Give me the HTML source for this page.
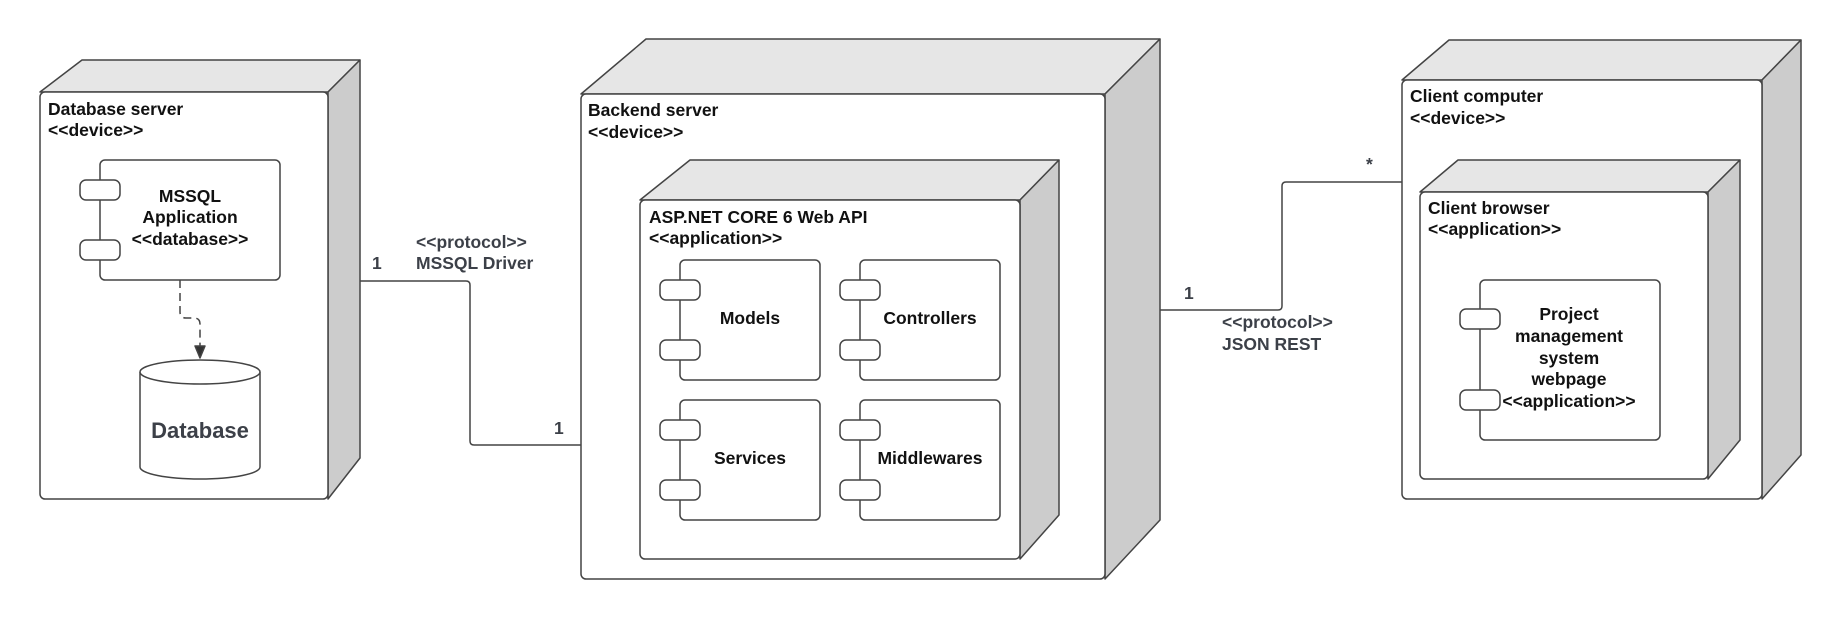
<!DOCTYPE html>
<html><head><meta charset="utf-8"><style>
html,body{margin:0;padding:0;background:#fff;}
svg{display:block;}
text{font-family:"Liberation Sans",Arial,sans-serif;font-weight:bold;font-size:17.5px;fill:#111;}
.g{fill:#3c4048;}
</style></head><body>
<svg width="1840" height="620" viewBox="0 0 1840 620" xmlns="http://www.w3.org/2000/svg">
<g stroke="#444" stroke-width="1.5" stroke-linejoin="round">
<!-- DB server -->
<path d="M40,92 L82,60 L360,60 L328,92 Z" fill="#e6e6e6"/>
<path d="M328,92 L360,60 L360,458 L328,499 Z" fill="#cccccc"/>
<rect x="40" y="92" width="288" height="407" rx="5" fill="#fff"/>
<!-- Backend -->
<path d="M581,94 L646,39 L1160,39 L1105,94 Z" fill="#e6e6e6"/>
<path d="M1105,94 L1160,39 L1160,520 L1105,579 Z" fill="#cccccc"/>
<rect x="581" y="94" width="524" height="485" rx="5" fill="#fff"/>
<!-- ASP -->
<path d="M640,200 L690,160 L1059,160 L1020,200 Z" fill="#e6e6e6"/>
<path d="M1020,200 L1059,160 L1059,515 L1020,559 Z" fill="#cccccc"/>
<rect x="640" y="200" width="380" height="359" rx="5" fill="#fff"/>
<!-- Client -->
<path d="M1402,80 L1449,40 L1801,40 L1762,80 Z" fill="#e6e6e6"/>
<path d="M1762,80 L1801,40 L1801,455 L1762,499 Z" fill="#cccccc"/>
<rect x="1402" y="80" width="360" height="419" rx="5" fill="#fff"/>
<!-- Browser -->
<path d="M1420,192 L1458,160 L1740,160 L1708,192 Z" fill="#e6e6e6"/>
<path d="M1708,192 L1740,160 L1740,440 L1708,479 Z" fill="#cccccc"/>
<rect x="1420" y="192" width="288" height="287" rx="5" fill="#fff"/>

<!-- components -->
<g fill="#fff">
<rect x="100" y="160" width="180" height="120" rx="5"/>
<rect x="80" y="180" width="40" height="20" rx="6"/>
<rect x="80" y="240" width="40" height="20" rx="6"/>

<rect x="680" y="260" width="140" height="120" rx="5"/>
<rect x="660" y="280" width="40" height="20" rx="6"/>
<rect x="660" y="340" width="40" height="20" rx="6"/>
<rect x="860" y="260" width="140" height="120" rx="5"/>
<rect x="840" y="280" width="40" height="20" rx="6"/>
<rect x="840" y="340" width="40" height="20" rx="6"/>
<rect x="680" y="400" width="140" height="120" rx="5"/>
<rect x="660" y="420" width="40" height="20" rx="6"/>
<rect x="660" y="480" width="40" height="20" rx="6"/>
<rect x="860" y="400" width="140" height="120" rx="5"/>
<rect x="840" y="420" width="40" height="20" rx="6"/>
<rect x="840" y="480" width="40" height="20" rx="6"/>

<rect x="1480" y="280" width="180" height="160" rx="5"/>
<rect x="1460" y="309" width="40" height="20" rx="6"/>
<rect x="1460" y="390" width="40" height="20" rx="6"/>

<!-- cylinder -->
<path d="M140,372 L140,467 A60,12 0 0 0 260,467 L260,372"/>
<ellipse cx="200" cy="372" rx="60" ry="12"/>
</g>
<!-- dashed arrow -->
<path d="M180,280 L180,312 Q180,318 186,318 L194,318 Q200,318 200,324 L200,348" fill="none" stroke-dasharray="8,5"/>
<path d="M195,346 L205,346 L200,358 Z" fill="#333"/>
<!-- connectors -->
<path d="M360,281 L466,281 Q470,281 470,285 L470,441 Q470,445 474,445 L581,445" fill="none"/>
<path d="M1160,310 L1278,310 Q1282,310 1282,306 L1282,186 Q1282,182 1286,182 L1402,182" fill="none"/>
</g>

<text x="48" y="115">Database server</text>
<text x="48" y="136">&lt;&lt;device&gt;&gt;</text>
<text x="190" y="202" text-anchor="middle">MSSQL</text>
<text x="190" y="223" text-anchor="middle">Application</text>
<text x="190" y="245" text-anchor="middle">&lt;&lt;database&gt;&gt;</text>
<text x="200" y="438" text-anchor="middle" class="g" style="font-size:22px">Database</text>

<text x="588" y="116">Backend server</text>
<text x="588" y="138">&lt;&lt;device&gt;&gt;</text>
<text x="649" y="223">ASP.NET CORE 6 Web API</text>
<text x="649" y="244">&lt;&lt;application&gt;&gt;</text>
<text x="750" y="324" text-anchor="middle">Models</text>
<text x="930" y="324" text-anchor="middle">Controllers</text>
<text x="750" y="464" text-anchor="middle">Services</text>
<text x="930" y="464" text-anchor="middle">Middlewares</text>

<text x="1410" y="102">Client computer</text>
<text x="1410" y="124">&lt;&lt;device&gt;&gt;</text>
<text x="1428" y="214">Client browser</text>
<text x="1428" y="235">&lt;&lt;application&gt;&gt;</text>
<text x="1569" y="320" text-anchor="middle">Project</text>
<text x="1569" y="342" text-anchor="middle">management</text>
<text x="1569" y="364" text-anchor="middle">system</text>
<text x="1569" y="385" text-anchor="middle">webpage</text>
<text x="1569" y="407" text-anchor="middle">&lt;&lt;application&gt;&gt;</text>

<text x="372" y="269" class="g">1</text>
<text x="416" y="248" class="g">&lt;&lt;protocol&gt;&gt;</text>
<text x="416" y="269" class="g">MSSQL Driver</text>
<text x="554" y="434" class="g">1</text>
<text x="1184" y="299" class="g">1</text>
<text x="1366" y="170" class="g">*</text>
<text x="1222" y="328" class="g">&lt;&lt;protocol&gt;&gt;</text>
<text x="1222" y="350" class="g">JSON REST</text>
</svg>
</body></html>
